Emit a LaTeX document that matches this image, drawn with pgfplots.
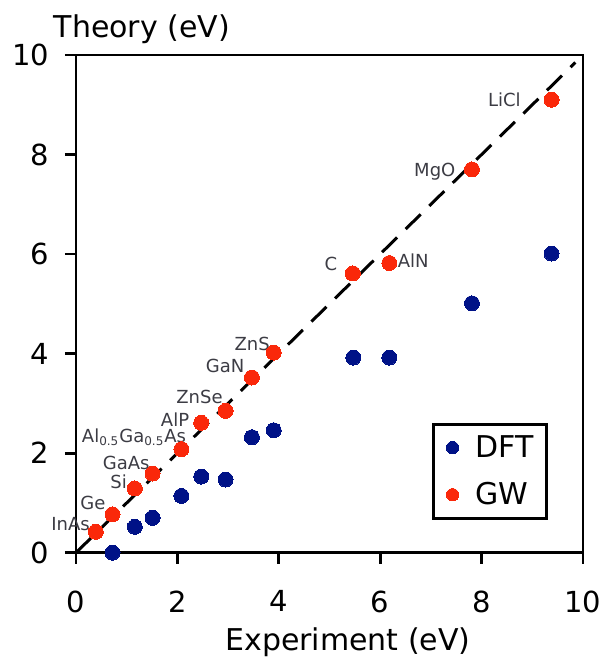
\documentclass[border=0pt]{standalone}
\usepackage{fontspec}
\setmainfont{DejaVu Sans}
\usepackage{pgfplots}
\usepackage{pgfplotstable}
\pgfplotsset{compat=1.18}
\definecolor{gwred}{RGB}{250,40,10}
\definecolor{dftblue}{RGB}{0,18,135}
\definecolor{lbl}{RGB}{60,60,68}

\pgfplotstableread{
x y
0.72 0.00
1.16 0.52
1.51 0.70
2.08 1.14
2.47 1.53
2.95 1.47
3.47 2.32
3.90 2.46
5.47 3.92
6.18 3.92
7.81 5.01
9.38 6.01
}\dft

\pgfplotstableread{
x y
0.39 0.42
0.72 0.77
1.16 1.29
1.51 1.59
2.08 2.08
2.47 2.61
2.95 2.85
3.47 3.52
3.90 4.02
5.46 5.61
6.18 5.82
7.81 7.70
9.38 9.10
}\gw

\begin{document}
\begin{tikzpicture}
\begin{axis}[name=ax, scale only axis, width=253.5pt, height=248.85pt,
  xmin=0, xmax=10, ymin=0, ymax=10,
  xtick={0,2,...,10}, ytick={0,2,...,10},
  axis line style={line width=1.4pt},
  tick style={line width=1.4pt, black},
  major tick length=5.5pt, tick align=outside,
  xtick pos=bottom, ytick pos=left,
  ticklabel style={font=\fontsize{14.5}{17}\selectfont},
  /pgf/number format/assume math mode=true,
  xticklabel style={yshift=-10pt},
  yticklabel style={xshift=-4.4pt},
  clip=false,
  xlabel={Experiment (eV)}, ylabel={Theory (eV)},
  every axis x label/.style={at={(axis description cs:0,0)}, anchor=base west, inner sep=0pt, xshift=74.5pt, yshift=-48.65pt, font=\fontsize{15}{18}\selectfont},
  every axis y label/.style={at={(axis description cs:0,1)}, anchor=base west, inner sep=0pt, xshift=-11.35pt, yshift=8.85pt, font=\fontsize{15}{18}\selectfont},
  legend style={at={(axis description cs:0.931,0.066)}, anchor=south east,
    draw=black, line width=1.5pt, inner xsep=6.5pt, inner ysep=5.5pt,
    row sep=11pt, column sep=8.3pt,
    nodes={inner sep=0pt},
    font=\fontsize{15}{18}\selectfont},
  legend cell align=left,
  legend image code/.code={\draw[#1, line width=0pt, mark size=3.1pt] plot coordinates {(0cm,0cm)};},
]
\addplot[black, line width=1.5pt, dash pattern=on 10.5pt off 6pt, forget plot] coordinates {(0,0) (9.85,9.85)};
\addplot[only marks, mark=*, mark size=3.75pt, mark options={fill=dftblue, draw=dftblue, line width=0pt}] table[x=x,y=y] {\dft};
\addlegendentry{DFT}
\addplot[only marks, mark=*, mark size=3.75pt, mark options={fill=gwred, draw=gwred, line width=0pt}] table[x=x,y=y] {\gw};
\addlegendentry{GW}
\begin{scope}[every node/.style={inner sep=0pt, font=\fontsize{9}{11}\selectfont, text=lbl}]
\node[anchor=base east] at (axis cs:8.78,8.96) {LiCl};
\node[anchor=base east] at (axis cs:7.49,7.55) {MgO};
\node[anchor=base east] at (axis cs:5.16,5.68) {C};
\node[anchor=base west] at (axis cs:6.34,5.74) {AlN};
\node[anchor=base east] at (axis cs:3.83,4.07) {ZnS};
\node[anchor=base east] at (axis cs:3.33,3.63) {GaN};
\node[anchor=base east] at (axis cs:2.90,2.99) {ZnSe};
\node[anchor=base east] at (axis cs:2.24,2.53) {AlP};
\node[anchor=base east] at (axis cs:2.18,2.21) {Al\textsubscript{0.5}Ga\textsubscript{0.5}As};
\node[anchor=base east] at (axis cs:1.46,1.67) {GaAs};
\node[anchor=base east] at (axis cs:1.01,1.29) {Si};
\node[anchor=base east] at (axis cs:0.59,0.86) {Ge};
\node[anchor=base east] at (axis cs:0.28,0.44) {InAs};
\end{scope}
\end{axis}
\path (ax.south west) ++(-38pt,-52.65pt) rectangle ++(302pt,329pt);
\end{tikzpicture}
\end{document}
